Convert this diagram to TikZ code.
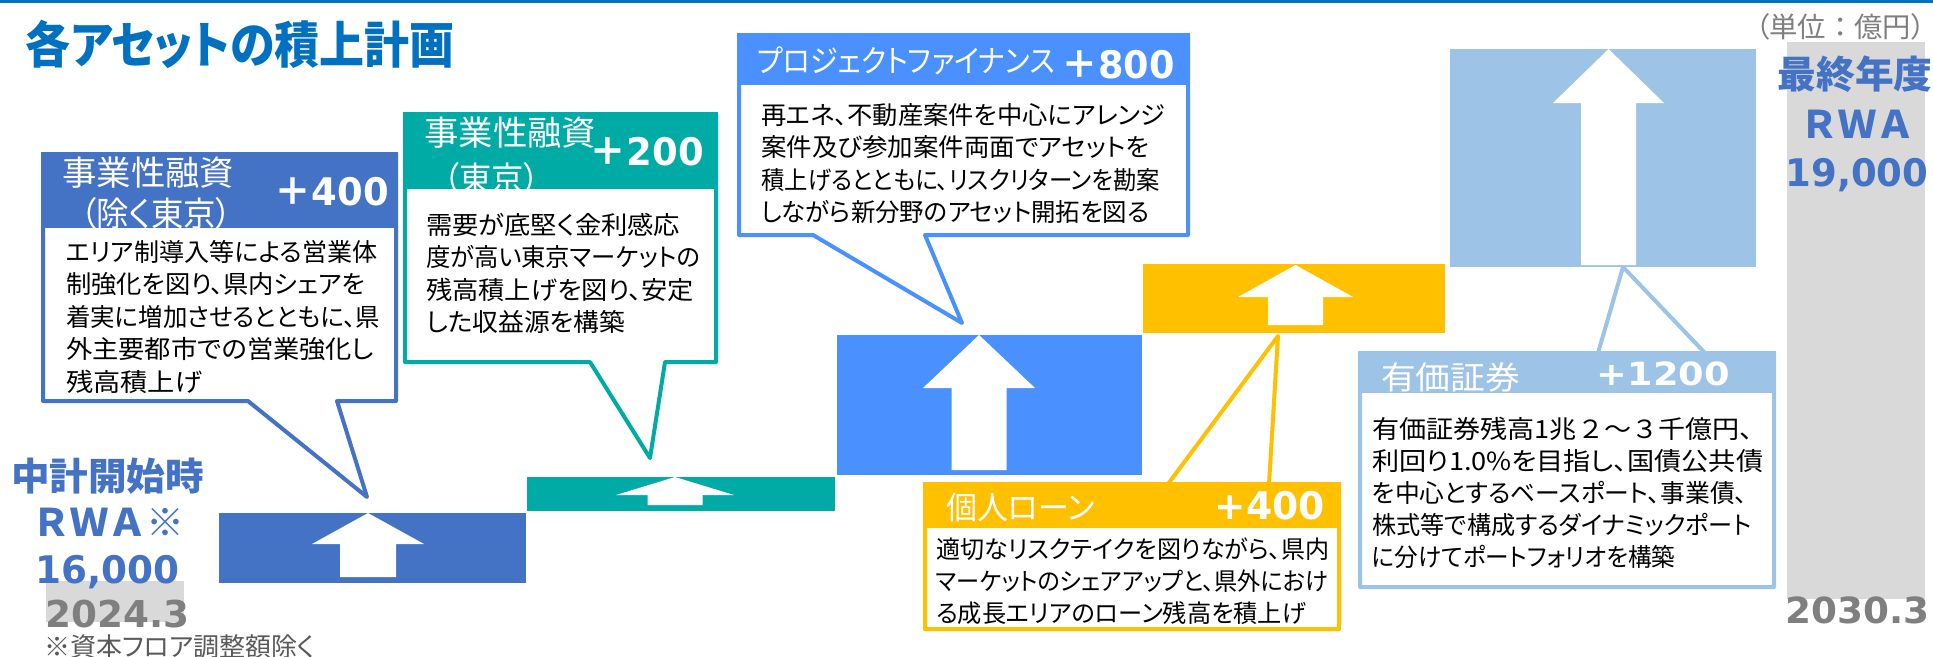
\documentclass[tikz,border=0pt]{standalone}
\usepackage{fontspec}
\usepackage{graphicx}
\setmainfont{Noto Sans CJK JP}[RawFeature=+palt]
\newfontfamily\jpm{Noto Sans CJK JP}
\newfontfamily\dvs{DejaVu Sans}
\definecolor{cA}{HTML}{4472C4}
\definecolor{cT}{HTML}{00ABA6}
\definecolor{cP}{HTML}{4A90FF}
\definecolor{cY}{HTML}{FFC000}
\definecolor{cL}{HTML}{9DC3E6}
\definecolor{gcol}{HTML}{D9D9D9}
\definecolor{gtxt}{HTML}{7F7F7F}
\definecolor{ntxt}{HTML}{595959}
\definecolor{ttl}{HTML}{0070C0}
\newcommand{\fw}[2]{\resizebox{#1pt}{\height}{#2}}
\newcommand{\uparw}[6]{%
  \fill[white] (#1,#2) -- ({#1+#4},#3) -- ({#1+#5},#3) -- ({#1+#5},#6) -- ({#1-#5},#6) -- ({#1-#5},#3) -- ({#1-#4},#3) -- cycle;}
\begin{document}
\begin{tikzpicture}[x=1pt,y=-1pt,
  barbox/.style={draw=none,inner sep=0,outer sep=0,rectangle},
  cbox/.style={line width=4,line join=round,fill=white},
  hdr/.style={text=white,inner sep=0,anchor=north west,font=\fontsize{34}{40}\selectfont},
  numtxt/.style={inner sep=0,font=\dvs\bfseries\fontsize{38}{40}\selectfont},
  bodytxt/.style={inner sep=0,anchor=north west,align=left,text=black,font=\fontsize{25}{32.5}\selectfont}]
\useasboundingbox (0,0) rectangle (1933,656);
\fill[white] (0,0) rectangle (1933,656);
% top line
\fill[ttl] (0,0) rectangle (1933,3);
\node[anchor=north west,inner sep=0,text=ttl,font=\bfseries\fontsize{50}{50}\selectfont] (title) at (25.5,20) {\fw{429}{各アセットの積上計画}};
\node[anchor=north west,inner sep=0,text=gtxt,font=\fontsize{28}{28}\selectfont] (unit) at (1755,13) {\fw{170}{（単位{\jpm ：}億円）}};

% right gray column
\fill[gcol] (1787,42) rectangle (1925,599);
\node[anchor=north,inner sep=0,text=cA,font=\bfseries\fontsize{38}{38}\selectfont] (final) at (1855,56) {\fw{155}{最終年度}};
\node[anchor=north,inner sep=0,text=cA,font=\jpm\bfseries\fontsize{38}{38}\selectfont] (rwa2) at (1857,110) {ＲＷＡ};
\node[numtxt,anchor=base,text=cA] (v19) at (1857,186) {\fw{143}{19,000}};
\node[numtxt,anchor=base,text=gtxt,font=\dvs\bfseries\fontsize{36}{36}\selectfont] (d2030) at (1857.5,623) {\fw{144}{2030.3}};

% left texts
\fill[gcol] (46,581) rectangle (184,622);
\node[anchor=north,inner sep=0,text=cA,font=\bfseries\fontsize{38}{38}\selectfont] (start) at (107.5,458) {\fw{193}{中計開始時}};
\node[anchor=north,inner sep=0,text=cA,font=\jpm\bfseries\fontsize{38}{38}\selectfont] (rwa1) at (108.5,508) {\fw{152}{ＲＷＡ※}};
\node[numtxt,anchor=base,text=cA] (v16) at (107.5,583) {\fw{144}{16,000}};
\node[numtxt,anchor=base,text=gtxt,font=\dvs\bfseries\fontsize{37}{37}\selectfont] (d2024) at (117.5,627) {\fw{144}{2024.3}};
\node[anchor=north west,inner sep=0,text=ntxt,font=\fontsize{26}{26}\selectfont] (note) at (44,634) {\fw{271}{※資本フロア調整額除く}};

% bars
\node[barbox,fill=cA,minimum width=307,minimum height=70] (bar1) at (372.5,548) {};
\uparw{368}{513}{544}{56}{28}{577}
\node[barbox,fill=cT,minimum width=308,minimum height=34] (bar2) at (681,494) {};
\uparw{675}{477}{495}{59}{27.5}{505}
\node[barbox,fill=cP,minimum width=305,minimum height=140] (bar3) at (989.5,405) {};
\uparw{979}{335}{388}{56}{27.5}{470}
\node[barbox,fill=cY,minimum width=302,minimum height=69] (bar4) at (1294,298.5) {};
\uparw{1295.5}{265}{297}{57.5}{27.5}{325}
\node[barbox,fill=cL,minimum width=306,minimum height=218] (bar5) at (1603,158) {};
\uparw{1608.5}{49}{103}{55.5}{27.5}{265}

% callout 1
\coordinate (tip1) at (367,497);
\draw[cbox,draw=cA] (43,154) -- (396,154) -- (396,401) -- (337,401) -- (tip1) -- (248,401) -- (43,401) -- cycle;
\fill[cA] (41,152) rectangle (398,228);
\node[hdr] (h1a) at (62,157) {\fw{172}{事業性融資}};
\node[hdr] (h1b) at (80,197) {\fw{152}{（除く東京）}};
\node[numtxt,anchor=base east,text=white] (n1) at (389,205) {\fw{114}{{\jpm\bfseries ＋}400}};
\node[bodytxt] (b1) at (66,240) {\fw{311}{エリア制導入等による営業体}\\\fw{299}{制強化を図り、県内シェアを}\\\fw{314}{着実に増加させるとともに、県}\\\fw{308}{外主要都市での営業強化し}\\\fw{136}{残高積上げ}};

% callout 2
\coordinate (tip2) at (650,458);
\draw[cbox,draw=cT] (405,114) -- (716,114) -- (716,362) -- (665,362) -- (tip2) -- (590,362) -- (405,362) -- cycle;
\fill[cT] (403,112) rectangle (718,189);
\node[hdr] (h2a) at (424,117) {\fw{172}{事業性融資}};
\node[hdr] (h2b) at (443,162) {\fw{97}{（東京）}};
\node[numtxt,anchor=base east,text=white] (n2) at (704,165) {\fw{114}{{\jpm\bfseries ＋}200}};
\node[bodytxt] (b2) at (426,213) {\fw{254}{需要が底堅く金利感応}\\\fw{274}{度が高い東京マーケットの}\\\fw{268}{残高積上げを図り、安定}\\\fw{199}{した収益源を構築}};

% callout 3
\coordinate (tip3) at (962,323);
\draw[cbox,draw=cP] (739,35) -- (1188,35) -- (1188,235) -- (925,235) -- (tip3) -- (813,235) -- (739,235) -- cycle;
\fill[cP] (737,33) rectangle (1190,85);
\node[hdr,font=\fontsize{31}{31}\selectfont] (h3) at (757,47) {\fw{298}{プロジェクトファイナンス}};
\node[numtxt,anchor=base east,text=white] (n3) at (1175,78) {\fw{113}{{\jpm\bfseries ＋}800}};
\node[bodytxt] (b3) at (761,103) {\fw{404}{再エネ、不動産案件を中心にアレンジ}\\\fw{388}{案件及び参加案件両面でアセットを}\\\fw{399}{積上げるとともに、リスクリターンを勘案}\\\fw{388}{しながら新分野のアセット開拓を図る}};

% callout 4
\coordinate (tip4) at (1278,336);
\draw[cbox,draw=cY] (925,484) -- (1168,484) -- (tip4) -- (1269,484) -- (1339,484) -- (1339,629) -- (925,629) -- cycle;
\fill[cY] (923,482) rectangle (1341,528);
\node[hdr,font=\fontsize{32}{32}\selectfont] (h4) at (946,493) {\fw{149}{個人ローン}};
\node[numtxt,anchor=base east,text=white] (n4) at (1325,519) {\fw{110}{+400}};
\node[bodytxt,font=\fontsize{24.5}{32}\selectfont] (b4) at (936,538) {\fw{393}{適切なリスクテイクを図りながら、県内}\\\fw{392}{マーケットのシェアアップと、県外におけ}\\\fw{370}{る成長エリアのローン残高を積上げ}};

% callout 5
\coordinate (tip5) at (1623,267);
\draw[cbox,draw=cL] (1360,353) -- (1598,353) -- (tip5) -- (1705,353) -- (1774,353) -- (1774,587) -- (1360,587) -- cycle;
\fill[cL] (1358,351) rectangle (1776,393);
\node[hdr,font=\fontsize{32}{32}\selectfont] (h5) at (1381,362) {\fw{139}{有価証券}};
\node[numtxt,anchor=base east,text=white,font=\dvs\bfseries\fontsize{32}{32}\selectfont] (n5) at (1730,385) {\fw{133}{+1200}};
\node[bodytxt,font=\fontsize{25}{32}\selectfont] (b5) at (1372,417) {\fw{381}{有価証券残高1兆{\jpm ２～３}千億円、}\\\fw{391}{利回り1.0\%を目指し、国債公共債}\\\fw{375}{を中心とするベースポート、事業債、}\\\fw{379}{株式等で構成するダイナミックポート}\\\fw{303}{に分けてポートフォリオを構築}};
\end{tikzpicture}
\end{document}
